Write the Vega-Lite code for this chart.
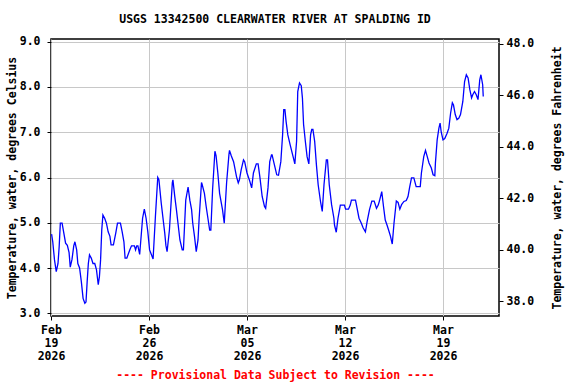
{
  "$schema": "https://vega.github.io/schema/vega-lite/v6.json",
  "autosize": "none",
  "width": 448,
  "height": 277,
  "padding": {"left": 51, "top": 39, "right": 77, "bottom": 68},
  "background": "white",
  "title": {
    "text": "USGS 13342500 CLEARWATER RIVER AT SPALDING ID",
    "font": "DejaVu Sans Mono",
    "fontSize": 11.5,
    "fontWeight": "bold",
    "color": "black",
    "anchor": "middle",
    "offset": 10
  },
  "config": {
    "view": {"stroke": "black", "strokeWidth": 1.5},
    "axis": {
      "labelFont": "DejaVu Sans Mono",
      "labelFontSize": 11.5,
      "labelFontWeight": "bold",
      "labelColor": "black",
      "titleFont": "DejaVu Sans Mono",
      "titleFontSize": 11.5,
      "titleFontWeight": "bold",
      "titleColor": "black",
      "tickColor": "black",
      "tickSize": 4,
      "domain": false,
      "gridColor": "#c8c8c8",
      "gridWidth": 1,
      "gridOpacity": 1
    }
  },
  "datasets": {
    "temp": [
      {"t": "2026-02-19T01:00", "c": 4.75},
      {"t": "2026-02-19T03:00", "c": 4.58},
      {"t": "2026-02-19T06:00", "c": 4.18},
      {"t": "2026-02-19T09:00", "c": 3.92},
      {"t": "2026-02-19T12:00", "c": 4.10},
      {"t": "2026-02-19T14:00", "c": 4.47},
      {"t": "2026-02-19T16:00", "c": 4.99},
      {"t": "2026-02-19T19:00", "c": 4.99},
      {"t": "2026-02-19T22:00", "c": 4.77},
      {"t": "2026-02-20T01:00", "c": 4.55},
      {"t": "2026-02-20T04:00", "c": 4.50},
      {"t": "2026-02-20T07:00", "c": 4.34},
      {"t": "2026-02-20T09:00", "c": 4.02},
      {"t": "2026-02-20T12:00", "c": 4.19},
      {"t": "2026-02-20T15:00", "c": 4.49},
      {"t": "2026-02-20T17:00", "c": 4.58},
      {"t": "2026-02-20T20:00", "c": 4.40},
      {"t": "2026-02-20T22:00", "c": 4.10},
      {"t": "2026-02-21T01:00", "c": 4.00},
      {"t": "2026-02-21T04:00", "c": 3.70},
      {"t": "2026-02-21T07:00", "c": 3.33},
      {"t": "2026-02-21T10:00", "c": 3.22},
      {"t": "2026-02-21T12:00", "c": 3.25},
      {"t": "2026-02-21T14:00", "c": 3.70},
      {"t": "2026-02-21T16:00", "c": 4.10},
      {"t": "2026-02-21T18:00", "c": 4.29},
      {"t": "2026-02-21T21:00", "c": 4.22},
      {"t": "2026-02-22T00:00", "c": 4.10},
      {"t": "2026-02-22T03:00", "c": 4.10},
      {"t": "2026-02-22T06:00", "c": 3.96},
      {"t": "2026-02-22T09:00", "c": 3.63},
      {"t": "2026-02-22T11:00", "c": 3.81},
      {"t": "2026-02-22T13:00", "c": 4.18},
      {"t": "2026-02-22T15:00", "c": 4.84},
      {"t": "2026-02-22T17:00", "c": 5.17},
      {"t": "2026-02-22T20:00", "c": 5.10},
      {"t": "2026-02-22T23:00", "c": 4.99},
      {"t": "2026-02-23T02:00", "c": 4.80},
      {"t": "2026-02-23T05:00", "c": 4.70},
      {"t": "2026-02-23T07:00", "c": 4.51},
      {"t": "2026-02-23T11:00", "c": 4.51},
      {"t": "2026-02-23T15:00", "c": 4.77},
      {"t": "2026-02-23T18:00", "c": 4.99},
      {"t": "2026-02-23T23:00", "c": 4.99},
      {"t": "2026-02-24T02:00", "c": 4.80},
      {"t": "2026-02-24T05:00", "c": 4.58},
      {"t": "2026-02-24T07:00", "c": 4.22},
      {"t": "2026-02-24T10:00", "c": 4.22},
      {"t": "2026-02-24T15:00", "c": 4.40},
      {"t": "2026-02-24T18:00", "c": 4.49},
      {"t": "2026-02-24T23:00", "c": 4.49},
      {"t": "2026-02-25T01:00", "c": 4.40},
      {"t": "2026-02-25T03:00", "c": 4.49},
      {"t": "2026-02-25T05:00", "c": 4.49},
      {"t": "2026-02-25T08:00", "c": 4.30},
      {"t": "2026-02-25T13:00", "c": 5.10},
      {"t": "2026-02-25T16:00", "c": 5.30},
      {"t": "2026-02-25T19:00", "c": 5.10},
      {"t": "2026-02-25T22:00", "c": 4.80},
      {"t": "2026-02-26T01:00", "c": 4.40},
      {"t": "2026-02-26T07:00", "c": 4.20},
      {"t": "2026-02-26T11:00", "c": 5.14},
      {"t": "2026-02-26T15:00", "c": 6.00},
      {"t": "2026-02-26T17:00", "c": 5.95},
      {"t": "2026-02-26T21:00", "c": 5.43},
      {"t": "2026-02-27T00:00", "c": 5.10},
      {"t": "2026-02-27T03:00", "c": 4.77},
      {"t": "2026-02-27T05:00", "c": 4.50},
      {"t": "2026-02-27T07:00", "c": 4.36},
      {"t": "2026-02-27T11:00", "c": 4.84},
      {"t": "2026-02-27T16:00", "c": 5.89},
      {"t": "2026-02-27T17:00", "c": 5.95},
      {"t": "2026-02-27T20:00", "c": 5.60},
      {"t": "2026-02-27T23:00", "c": 5.29},
      {"t": "2026-02-28T05:00", "c": 4.62},
      {"t": "2026-02-28T09:00", "c": 4.40},
      {"t": "2026-02-28T11:00", "c": 4.40},
      {"t": "2026-02-28T15:00", "c": 5.50},
      {"t": "2026-02-28T19:00", "c": 5.79},
      {"t": "2026-02-28T22:00", "c": 5.50},
      {"t": "2026-03-01T01:00", "c": 5.29},
      {"t": "2026-03-01T03:00", "c": 4.99},
      {"t": "2026-03-01T06:00", "c": 4.70},
      {"t": "2026-03-01T09:00", "c": 4.36},
      {"t": "2026-03-01T12:00", "c": 4.62},
      {"t": "2026-03-01T14:00", "c": 5.10},
      {"t": "2026-03-01T18:00", "c": 5.89},
      {"t": "2026-03-01T19:00", "c": 5.85},
      {"t": "2026-03-01T23:00", "c": 5.65},
      {"t": "2026-03-02T02:00", "c": 5.36},
      {"t": "2026-03-02T05:00", "c": 5.10},
      {"t": "2026-03-02T08:00", "c": 4.84},
      {"t": "2026-03-02T10:00", "c": 4.84},
      {"t": "2026-03-02T13:00", "c": 5.73},
      {"t": "2026-03-02T17:00", "c": 6.58},
      {"t": "2026-03-02T19:00", "c": 6.48},
      {"t": "2026-03-02T22:00", "c": 6.10},
      {"t": "2026-03-03T01:00", "c": 5.65},
      {"t": "2026-03-03T06:00", "c": 5.29},
      {"t": "2026-03-03T09:00", "c": 4.99},
      {"t": "2026-03-03T13:00", "c": 5.88},
      {"t": "2026-03-03T17:00", "c": 6.50},
      {"t": "2026-03-03T18:00", "c": 6.60},
      {"t": "2026-03-03T21:00", "c": 6.48},
      {"t": "2026-03-04T01:00", "c": 6.35},
      {"t": "2026-03-04T06:00", "c": 6.02},
      {"t": "2026-03-04T09:00", "c": 5.88},
      {"t": "2026-03-04T11:00", "c": 5.95},
      {"t": "2026-03-04T14:00", "c": 6.17},
      {"t": "2026-03-04T18:00", "c": 6.39},
      {"t": "2026-03-04T20:00", "c": 6.35},
      {"t": "2026-03-05T00:00", "c": 6.10},
      {"t": "2026-03-05T05:00", "c": 5.91},
      {"t": "2026-03-05T08:00", "c": 5.77},
      {"t": "2026-03-05T11:00", "c": 6.10},
      {"t": "2026-03-05T16:00", "c": 6.30},
      {"t": "2026-03-05T19:00", "c": 6.30},
      {"t": "2026-03-05T22:00", "c": 6.02},
      {"t": "2026-03-06T02:00", "c": 5.58},
      {"t": "2026-03-06T06:00", "c": 5.36},
      {"t": "2026-03-06T08:00", "c": 5.32},
      {"t": "2026-03-06T12:00", "c": 5.77},
      {"t": "2026-03-06T15:00", "c": 6.35},
      {"t": "2026-03-06T18:00", "c": 6.50},
      {"t": "2026-03-06T19:00", "c": 6.50},
      {"t": "2026-03-06T23:00", "c": 6.28},
      {"t": "2026-03-07T03:00", "c": 6.06},
      {"t": "2026-03-07T06:00", "c": 6.05},
      {"t": "2026-03-07T10:00", "c": 6.35},
      {"t": "2026-03-07T13:00", "c": 6.94},
      {"t": "2026-03-07T15:00", "c": 7.50},
      {"t": "2026-03-07T17:00", "c": 7.50},
      {"t": "2026-03-07T19:00", "c": 7.24},
      {"t": "2026-03-07T22:00", "c": 6.94},
      {"t": "2026-03-08T02:00", "c": 6.72},
      {"t": "2026-03-08T07:00", "c": 6.46},
      {"t": "2026-03-08T10:00", "c": 6.30},
      {"t": "2026-03-08T13:00", "c": 6.80},
      {"t": "2026-03-08T15:00", "c": 7.90},
      {"t": "2026-03-08T18:00", "c": 8.09},
      {"t": "2026-03-08T21:00", "c": 8.03},
      {"t": "2026-03-08T23:00", "c": 7.76},
      {"t": "2026-03-09T01:00", "c": 7.17},
      {"t": "2026-03-09T04:00", "c": 6.80},
      {"t": "2026-03-09T07:00", "c": 6.46},
      {"t": "2026-03-09T10:00", "c": 6.30},
      {"t": "2026-03-09T13:00", "c": 6.94},
      {"t": "2026-03-09T15:00", "c": 7.06},
      {"t": "2026-03-09T17:00", "c": 7.06},
      {"t": "2026-03-09T20:00", "c": 6.80},
      {"t": "2026-03-09T23:00", "c": 6.28},
      {"t": "2026-03-10T02:00", "c": 5.84},
      {"t": "2026-03-10T06:00", "c": 5.47},
      {"t": "2026-03-10T09:00", "c": 5.25},
      {"t": "2026-03-10T12:00", "c": 5.84},
      {"t": "2026-03-10T16:00", "c": 6.39},
      {"t": "2026-03-10T18:00", "c": 6.39},
      {"t": "2026-03-10T21:00", "c": 5.84},
      {"t": "2026-03-11T01:00", "c": 5.40},
      {"t": "2026-03-11T05:00", "c": 5.10},
      {"t": "2026-03-11T06:00", "c": 4.95},
      {"t": "2026-03-11T09:00", "c": 4.79},
      {"t": "2026-03-11T12:00", "c": 5.10},
      {"t": "2026-03-11T16:00", "c": 5.39},
      {"t": "2026-03-11T23:00", "c": 5.39},
      {"t": "2026-03-12T01:00", "c": 5.30},
      {"t": "2026-03-12T06:00", "c": 5.30},
      {"t": "2026-03-12T09:00", "c": 5.39},
      {"t": "2026-03-12T11:00", "c": 5.50},
      {"t": "2026-03-12T18:00", "c": 5.50},
      {"t": "2026-03-12T21:00", "c": 5.30},
      {"t": "2026-03-13T00:00", "c": 5.10},
      {"t": "2026-03-13T04:00", "c": 4.99},
      {"t": "2026-03-13T07:00", "c": 4.89},
      {"t": "2026-03-13T11:00", "c": 4.80},
      {"t": "2026-03-13T14:00", "c": 5.03},
      {"t": "2026-03-13T18:00", "c": 5.29},
      {"t": "2026-03-13T22:00", "c": 5.48},
      {"t": "2026-03-14T02:00", "c": 5.48},
      {"t": "2026-03-14T06:00", "c": 5.32},
      {"t": "2026-03-14T09:00", "c": 5.39},
      {"t": "2026-03-14T11:00", "c": 5.48},
      {"t": "2026-03-14T15:00", "c": 5.69},
      {"t": "2026-03-14T18:00", "c": 5.36},
      {"t": "2026-03-14T21:00", "c": 5.06},
      {"t": "2026-03-15T00:00", "c": 4.95},
      {"t": "2026-03-15T03:00", "c": 4.83},
      {"t": "2026-03-15T06:00", "c": 4.70},
      {"t": "2026-03-15T09:00", "c": 4.53},
      {"t": "2026-03-15T12:00", "c": 4.99},
      {"t": "2026-03-15T16:00", "c": 5.48},
      {"t": "2026-03-15T19:00", "c": 5.45},
      {"t": "2026-03-15T22:00", "c": 5.30},
      {"t": "2026-03-16T01:00", "c": 5.40},
      {"t": "2026-03-16T05:00", "c": 5.47},
      {"t": "2026-03-16T09:00", "c": 5.49},
      {"t": "2026-03-16T12:00", "c": 5.58},
      {"t": "2026-03-16T15:00", "c": 5.80},
      {"t": "2026-03-16T18:00", "c": 5.99},
      {"t": "2026-03-16T22:00", "c": 5.99},
      {"t": "2026-03-17T02:00", "c": 5.80},
      {"t": "2026-03-17T09:00", "c": 5.80},
      {"t": "2026-03-17T11:00", "c": 6.10},
      {"t": "2026-03-17T15:00", "c": 6.46},
      {"t": "2026-03-17T18:00", "c": 6.60},
      {"t": "2026-03-17T21:00", "c": 6.46},
      {"t": "2026-03-18T00:00", "c": 6.32},
      {"t": "2026-03-18T04:00", "c": 6.21},
      {"t": "2026-03-18T07:00", "c": 6.06},
      {"t": "2026-03-18T10:00", "c": 6.04},
      {"t": "2026-03-18T11:00", "c": 6.32},
      {"t": "2026-03-18T14:00", "c": 6.83},
      {"t": "2026-03-18T17:00", "c": 7.09},
      {"t": "2026-03-18T19:00", "c": 7.20},
      {"t": "2026-03-18T21:00", "c": 7.00},
      {"t": "2026-03-19T00:00", "c": 6.83},
      {"t": "2026-03-19T03:00", "c": 6.86},
      {"t": "2026-03-19T07:00", "c": 6.98},
      {"t": "2026-03-19T10:00", "c": 7.09},
      {"t": "2026-03-19T13:00", "c": 7.42},
      {"t": "2026-03-19T16:00", "c": 7.65},
      {"t": "2026-03-19T18:00", "c": 7.60},
      {"t": "2026-03-19T21:00", "c": 7.39},
      {"t": "2026-03-20T00:00", "c": 7.28},
      {"t": "2026-03-20T03:00", "c": 7.31},
      {"t": "2026-03-20T06:00", "c": 7.39},
      {"t": "2026-03-20T10:00", "c": 7.68},
      {"t": "2026-03-20T13:00", "c": 8.12},
      {"t": "2026-03-20T16:00", "c": 8.27},
      {"t": "2026-03-20T19:00", "c": 8.20},
      {"t": "2026-03-20T22:00", "c": 7.94},
      {"t": "2026-03-21T01:00", "c": 7.76},
      {"t": "2026-03-21T03:00", "c": 7.83},
      {"t": "2026-03-21T06:00", "c": 7.90},
      {"t": "2026-03-21T09:00", "c": 7.83},
      {"t": "2026-03-21T12:00", "c": 7.72},
      {"t": "2026-03-21T15:00", "c": 8.16},
      {"t": "2026-03-21T17:00", "c": 8.27},
      {"t": "2026-03-21T20:00", "c": 8.05},
      {"t": "2026-03-21T21:00", "c": 7.79}
    ],
    "fahrenheit": [
      {"f": 37.42},
      {"f": 48.18}
    ]
  },
  "layer": [
    {
      "data": {"name": "temp"},
      "mark": {"type": "line", "color": "#0000ff", "strokeWidth": 1.3, "clip": true},
      "encoding": {
        "x": {
          "field": "t",
          "type": "temporal",
          "scale": {
            "domain": [
              {"year": 2026, "month": 2, "date": 19},
              {"year": 2026, "month": 3, "date": 23}
            ],
            "nice": false
          },
          "axis": {
            "values": [
              {"year": 2026, "month": 2, "date": 19},
              {"year": 2026, "month": 2, "date": 26},
              {"year": 2026, "month": 3, "date": 5},
              {"year": 2026, "month": 3, "date": 12},
              {"year": 2026, "month": 3, "date": 19}
            ],
            "labelExpr": "[timeFormat(datum.value, '%b'), timeFormat(datum.value, '%d'), timeFormat(datum.value, '%Y')]",
            "labelLineHeight": 13,
            "labelPadding": 4,
            "labelFlush": false,
            "labelOverlap": false,
            "labelAlign": "center",
            "grid": true,
            "title": "---- Provisional Data Subject to Revision ----",
            "titleColor": "#ff0000",
            "titleY": 59,
            "titleBaseline": "middle"
          }
        },
        "y": {
          "field": "c",
          "type": "quantitative",
          "scale": {"domain": [2.94, 9.06], "nice": false, "zero": false},
          "axis": {
            "orient": "left",
            "values": [3, 4, 5, 6, 7, 8, 9],
            "format": ".1f",
            "grid": true,
            "labelPadding": 7,
            "title": "Temperature, water, degrees Celsius",
            "titleX": -39,
            "titleY": 138.5,
            "titleAngle": -90,
            "titleAlign": "center",
            "titleBaseline": "middle"
          }
        }
      }
    },
    {
      "data": {"name": "fahrenheit"},
      "mark": {"type": "point", "opacity": 0},
      "encoding": {
        "y": {
          "field": "f",
          "type": "quantitative",
          "scale": {"domain": [37.42, 48.18], "nice": false, "zero": false},
          "axis": {
            "orient": "right",
            "values": [38, 40, 42, 44, 46, 48],
            "format": ".1f",
            "grid": false,
            "labelPadding": 3,
            "title": "Temperature, water, degrees Fahrenheit",
            "titleX": 58,
            "titleY": 138.5,
            "titleAngle": -90,
            "titleAlign": "center",
            "titleBaseline": "middle"
          }
        }
      }
    }
  ],
  "resolve": {"scale": {"y": "independent"}}
}
